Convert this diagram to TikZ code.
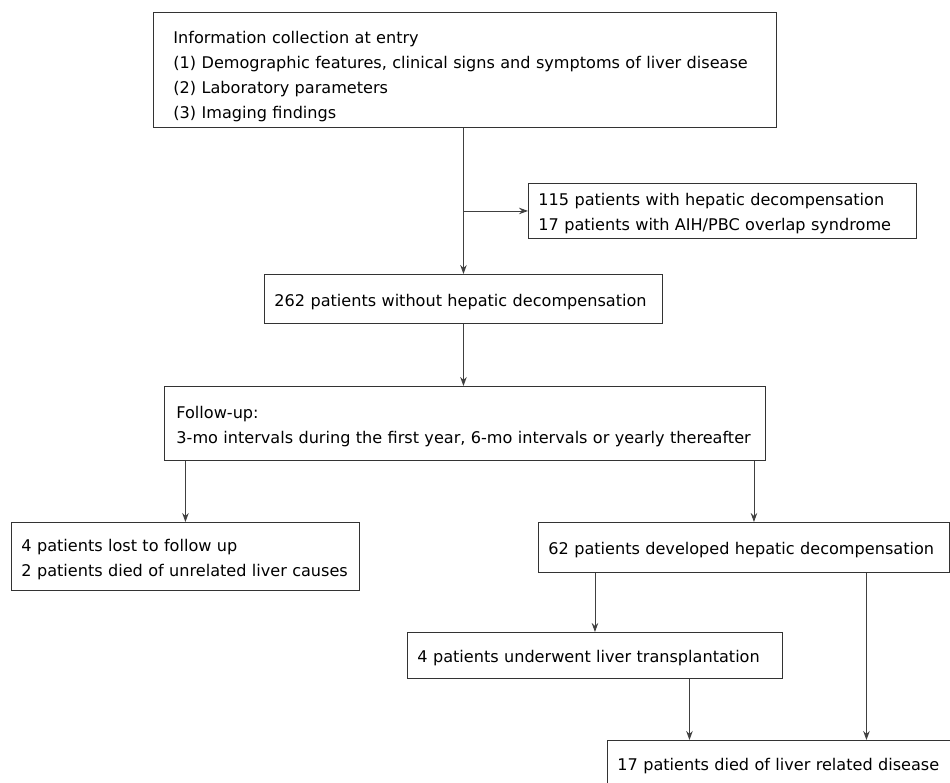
\documentclass[tikz,border=0pt]{standalone}
\usepackage{fontspec}
\setmainfont{DejaVu Sans}
\usetikzlibrary{arrows.meta,calc}
\newcommand\nbl[1]{\mbox{#1}}
\newcommand\up{\rule{0pt}{18pt}}
\begin{document}
\begin{tikzpicture}[x=1pt,y=-1pt,
  box/.style={draw=black!80,line width=0.9pt,anchor=north west,inner xsep=10pt,inner ysep=0pt,align=left,font=\fontsize{16.1}{25}\selectfont},
  arr/.style={draw=black!75,line width=0.9pt,-{Stealth[length=9pt,width=6.5pt]}}]
\useasboundingbox (0,0) rectangle (950,782);
\node[box,inner xsep=20pt,text width=583pt,minimum height=115pt] (b1) at (153,12) {\nbl{\rule{0pt}{26pt}Information collection at entry}\\\nbl{(1) Demographic features, clinical signs and symptoms of liver disease}\\\nbl{(2) Laboratory parameters}\\\nbl{(3) Imaging findings}};
\node[box,inner xsep=10pt,text width=368pt,minimum height=55pt] (side) at (528,183) {\nbl{\up 115 patients with hepatic decompensation}\\\nbl{17 patients with AIH/PBC overlap syndrome}};
\node[box,text width=378pt,minimum height=49pt] (b2) at (264,274) {\nbl{\up 262 patients without hepatic decompensation}};
\node[box,inner xsep=12pt,text width=577pt,minimum height=74pt] (b3) at (164,386) {\nbl{\up Follow-up:}\\\nbl{3-mo intervals during the first year, 6-mo intervals or yearly thereafter}};
\node[box,text width=328pt,minimum height=68pt] (b4) at (11,522) {\nbl{\up 4 patients lost to follow up}\\\nbl{2 patients died of unrelated liver causes}};
\node[box,text width=391pt,minimum height=50pt] (b5) at (538,522) {\nbl{\up 62 patients developed hepatic decompensation}};
\node[box,text width=355pt,minimum height=46pt] (b6) at (407,632) {\nbl{\up 4 patients underwent liver transplantation}};
\node[box,text width=323pt,minimum height=46pt] (b7) at (607,740) {\nbl{\up 17 patients died of liver related disease}};
\draw[arr] (b2.north |- b1.south) -- (b2.north);
\draw[arr] (side.west -| b2.north) -- (side.west);
\draw[arr] (b2.south) -- (b2.south |- b3.north);
\draw[arr] (b3.south -| b4.north) -- (b4.north);
\draw[arr] ([xshift=10pt]b5.north |- b3.south) -- ([xshift=10pt]b5.north);
\draw[arr] (b5.south -| b6.north) -- (b6.north);
\draw[arr] ([xshift=87.5pt]b7.north |- b5.south) -- ([xshift=87.5pt]b7.north);
\draw[arr] ([xshift=-89.5pt]b7.north |- b6.south) -- ([xshift=-89.5pt]b7.north);
\end{tikzpicture}
\end{document}
